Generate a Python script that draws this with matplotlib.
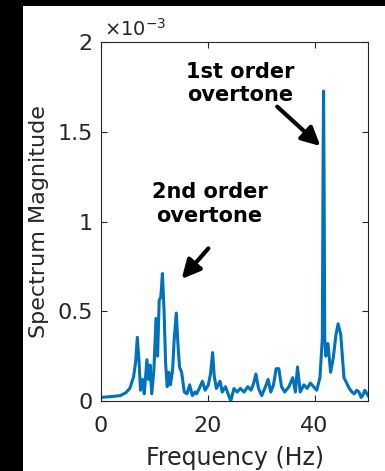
import matplotlib
matplotlib.use("Agg")
import matplotlib.pyplot as plt
from matplotlib.patches import Rectangle
from matplotlib.ticker import FuncFormatter

# spectrum (magnitude in units of 1e-3)
freq = [0, 2.0, 3.6, 4.6, 5.4, 6.1, 6.5, 6.8, 7.1, 7.4, 7.8, 8.1, 8.6, 8.9, 9.2, 9.5,
        9.9, 10.3, 10.6, 10.9, 11.2, 11.5, 11.8, 12.1, 12.4, 12.7, 13.0, 13.4, 13.7,
        14.1, 14.4, 14.7, 15.1, 15.6, 16.1, 16.6, 17.1, 17.6, 17.9, 18.4, 19.0, 19.5,
        20.1, 20.5, 20.9, 21.2, 21.6, 22.3, 22.7, 23.3, 23.8, 24.3, 24.9, 25.5, 26.1,
        26.8, 27.5, 28.1, 28.6, 29.0, 29.5, 30.1, 30.8, 31.3, 31.8, 32.3, 32.8, 33.3,
        33.8, 34.4, 35.2, 35.9, 36.4, 36.8, 37.3, 38.0, 38.6, 39.2, 39.8, 40.4, 41.0,
        41.45, 41.6, 41.68, 41.78, 41.9, 42.1, 42.5, 43.0, 43.5, 44.0, 44.4, 44.9,
        45.5, 46.0, 46.5, 47.0, 47.4, 47.9, 48.3, 48.7, 49.0, 49.4, 49.6, 50.0]
mag = [0.02, 0.025, 0.03, 0.045, 0.07, 0.135, 0.22, 0.355, 0.23, 0.06, 0.12, 0.04,
       0.23, 0.12, 0.20, 0.04, 0.17, 0.46, 0.25, 0.56, 0.58, 0.71, 0.51, 0.21, 0.08,
       0.16, 0.09, 0.17, 0.34, 0.49, 0.32, 0.19, 0.16, 0.05, 0.04, 0.09, 0.03, 0.05,
       0.04, 0.07, 0.11, 0.06, 0.09, 0.15, 0.27, 0.14, 0.07, 0.11, 0.05, 0.08, 0.04,
       0.0, 0.07, 0.05, 0.07, 0.05, 0.08, 0.06, 0.10, 0.15, 0.07, 0.03, 0.08, 0.12,
       0.05, 0.09, 0.18, 0.18, 0.08, 0.05, 0.08, 0.13, 0.05, 0.19, 0.05, 0.09, 0.07,
       0.10, 0.08, 0.06, 0.13, 0.35, 1.40, 1.727, 1.20, 0.35, 0.25, 0.32, 0.16, 0.24,
       0.37, 0.43, 0.37, 0.13, 0.10, 0.07, 0.05, 0.04, 0.06, 0.05, 0.02, 0.03, 0.06,
       0.05, 0.03]

yticks = [0, 0.5, 1, 1.5, 2]
xticks = [0, 20, 40]

grey = "#262626"

fig = plt.figure(figsize=(3.85, 4.71), dpi=100, facecolor="black")
fig.patches.append(Rectangle((23 / 385, 0), 1, 465 / 471, transform=fig.transFigure,
                             facecolor="white", edgecolor="none", zorder=-1))
ax = fig.add_axes([101 / 385, 70 / 471, 267 / 385, 359 / 471])
ax.set_facecolor("white")

ax.plot(freq, [m * 1e-3 for m in mag], color="#0072BD", lw=2.2)

ax.set_xlim(0, 50)
ax.set_ylim(0, 2e-3)
ax.set_xticks(xticks)
ax.set_yticks([t * 1e-3 for t in yticks])
ax.yaxis.set_major_formatter(FuncFormatter(lambda v, p: "%g" % round(v * 1e3, 3)))
ax.tick_params(direction="in", top=True, right=True, length=4, width=0.8,
               colors=grey, labelsize=16, labelcolor=grey)
ax.tick_params(axis="x", pad=11)
ax.tick_params(axis="y", pad=6)
for s in ax.spines.values():
    s.set_color(grey)
    s.set_linewidth(0.8)

ax.set_xlabel("Frequency (Hz)", fontsize=17, color=grey, labelpad=7)
ax.set_ylabel("Spectrum Magnitude", fontsize=16, color=grey, labelpad=6)
ax.text(0.01, 1.005, r"$\times$10$^{-3}$", transform=ax.transAxes, fontsize=14,
        color=grey, ha="left", va="bottom")

arrow = dict(arrowstyle="-|>", lw=3, mutation_scale=28, color="black",
             shrinkA=0, shrinkB=0)
ax.text(26.1, 1.77e-3, "1st order\novertone", fontsize=15, fontweight="bold",
        ha="center", va="center")
ax.annotate("", xy=(41.1, 1.42e-3), xytext=(33.0, 1.64e-3), arrowprops=arrow)
ax.text(20.35, 1.097e-3, "2nd order\novertone", fontsize=15, fontweight="bold",
        ha="center", va="center")
ax.annotate("", xy=(15.1, 0.68e-3), xytext=(20.1, 0.85e-3), arrowprops=arrow)

fig.savefig("out.png", dpi=100, facecolor=fig.get_facecolor())
